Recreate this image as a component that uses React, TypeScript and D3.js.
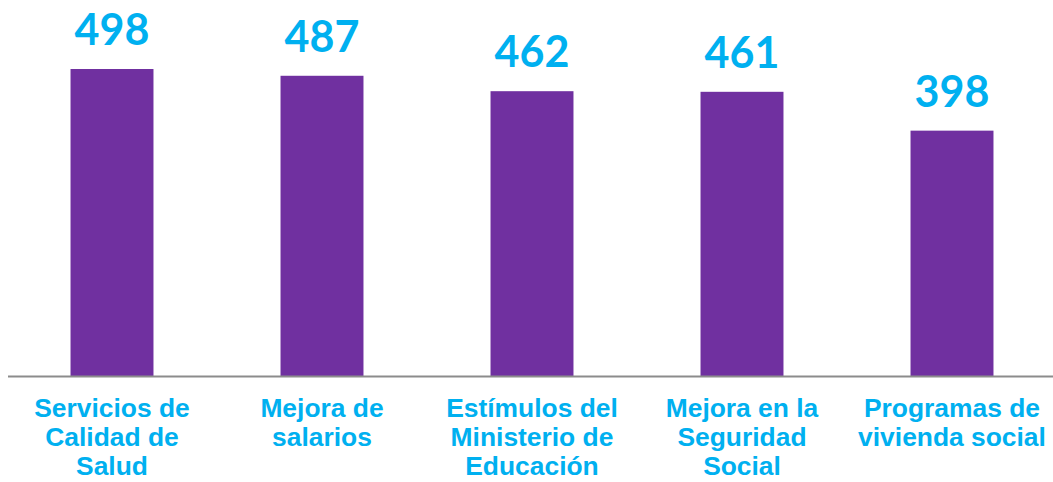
import React, { useRef, useEffect } from "react";
import * as d3 from "d3";

const categories = [
  ["Servicios de", "Calidad de", "Salud"],
  ["Mejora de", "salarios"],
  ["Estímulos del", "Ministerio de", "Educación"],
  ["Mejora en la", "Seguridad", "Social"],
  ["Programas de", "vivienda social"],
];
const values = [498, 487, 462, 461, 398];

const W = 1053;
const H = 482;

const App = () => {
  const svgRef = useRef<SVGSVGElement>(null);

  useEffect(() => {
    const svg = d3.select(svgRef.current);
    svg.selectAll("*").remove();

    const baseY = 376;
    const keys = categories.map((c) => c.join(" "));

    const x = d3.scaleBand()
      .domain(keys)
      .range([7, 1057])
      .paddingInner(0.605)
      .paddingOuter(0.3025);

    const y = d3.scaleLinear()
      .domain([0, 498])
      .range([baseY, 69]);

    // bars
    svg.append("g")
      .selectAll("rect")
      .data(values)
      .enter()
      .append("rect")
      .attr("x", (d, i) => x(keys[i]))
      .attr("y", (d) => y(d))
      .attr("width", x.bandwidth())
      .attr("height", (d) => baseY - y(d))
      .attr("fill", "#7030A0");

    // baseline
    svg.append("line")
      .attr("x1", 8)
      .attr("x2", W)
      .attr("y1", baseY + 0.5)
      .attr("y2", baseY + 0.5)
      .attr("stroke", "#8c8c8c")
      .attr("stroke-width", 2);

    // value labels
    svg.append("g")
      .selectAll("text")
      .data(values)
      .enter()
      .append("text")
      .attr("x", (d, i) => x(keys[i]) + x.bandwidth() / 2)
      .attr("y", (d) => y(d) - 24)
      .attr("text-anchor", "middle")
      .style("font-family", "Lato, 'Open Sans', sans-serif")
      .style("font-weight", 700)
      .style("font-size", "43px")
      .attr("fill", "#00B0F0")
      .text((d) => d);

    // category labels, top-aligned under each bar
    const cat = svg.append("g")
      .selectAll("text")
      .data(categories)
      .enter()
      .append("text")
      .attr("x", (d, i) => x(keys[i]) + x.bandwidth() / 2)
      .attr("y", 417)
      .attr("text-anchor", "middle")
      .style("font-family", "'Liberation Sans', Arial, sans-serif")
      .style("font-weight", 700)
      .style("font-size", "26.4px")
      .attr("fill", "#00B0F0");

    cat.each(function (lines, i) {
      const t = d3.select(this);
      lines.forEach((line, j) => {
        t.append("tspan")
          .attr("x", x(keys[i]) + x.bandwidth() / 2)
          .attr("y", 417 + j * 29)
          .text(line);
      });
    });
  }, []);

  return (
    <svg
      ref={svgRef}
      width={W}
      height={H}
      style={{ position: "absolute", left: 0, top: 0, background: "#fff" }}
    ></svg>
  );
};

export default App;
